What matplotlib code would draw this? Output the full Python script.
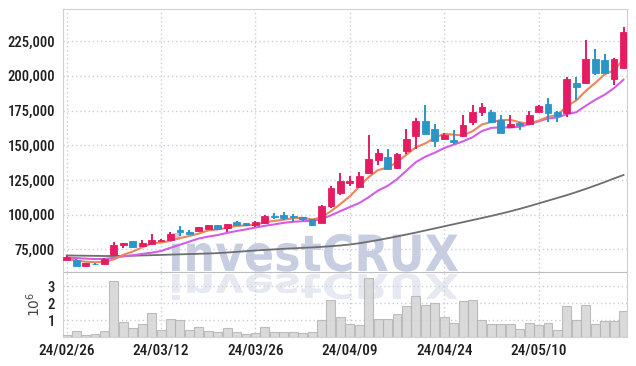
import matplotlib
matplotlib.use("Agg")
import matplotlib.pyplot as plt
import numpy as np
from matplotlib import font_manager
from matplotlib.font_manager import FontProperties
from matplotlib.textpath import TextPath
from matplotlib.patches import PathPatch
from matplotlib.transforms import Affine2D, IdentityTransform


# daily OHLC (won) and volume (millions of shares)
opens = [67200, 67500, 63100, 64500, 64200, 71000, 77900, 80800, 77200, 78400,
         80800, 82000, 88700, 87500, 88000, 89600, 92300, 90400, 94700, 93700,
         92800, 94000, 99300, 99500, 98800, 98300, 96600, 94000, 106000, 115600,
         122800, 120000, 130300, 139200, 141500, 133200, 145900, 156700, 167300, 162000,
         154300, 153400, 156500, 166800, 174000, 173600, 168500, 163200, 166000, 165100,
         174000, 180000, 173600, 173300, 195000, 194600, 212000, 211300, 197400, 206000]
highs = [69800, 67600, 65300, 65300, 68600, 80500, 79800, 80900, 82000, 85800,
         82300, 87500, 91600, 88900, 91200, 92600, 92500, 93500, 95700, 94200,
         95000, 99400, 101200, 101500, 100200, 98500, 96800, 106700, 120400, 129600,
         127600, 130700, 157700, 146900, 147100, 144700, 161500, 169700, 178700, 165600,
         159100, 161300, 172100, 178800, 180500, 175200, 171600, 171600, 166800, 174500,
         179300, 183700, 174700, 199300, 199300, 225700, 219700, 216100, 212800, 235300]
lows = [67000, 62900, 62900, 63300, 64000, 70500, 76200, 76500, 76700, 77700,
        80000, 81500, 84600, 85100, 87800, 89400, 89700, 87500, 92600, 92000,
        91000, 93500, 96800, 96400, 94700, 95400, 91800, 93800, 105000, 113900,
        120400, 119500, 129600, 135600, 132000, 133000, 144000, 147600, 158000, 148800,
        153500, 151200, 156000, 164400, 170900, 166000, 159000, 162800, 160800, 164800,
        173800, 166800, 166800, 170400, 182400, 194000, 200500, 201500, 193500, 204600]
closes = [69400, 63000, 65000, 64000, 68300, 78200, 79500, 76700, 79500, 81500,
          81600, 85800, 87200, 86200, 90900, 92300, 89900, 93000, 92800, 92800,
          94700, 98800, 98000, 97200, 98000, 96600, 92300, 106000, 119200, 124000,
          124000, 127600, 140400, 144400, 132700, 143500, 154800, 167300, 158400, 153100,
          157200, 152200, 164400, 173600, 177200, 166400, 159100, 165100, 164600, 171600,
          178100, 173300, 170800, 197400, 192000, 212000, 202100, 202100, 212500, 231700]
volumes = [0.12, 0.38, 0.12, 0.20, 0.38, 3.30, 0.90, 0.57, 0.80, 1.43,
           0.45, 1.08, 1.02, 0.45, 0.60, 0.40, 0.32, 0.55, 0.30, 0.20,
           0.25, 0.60, 0.33, 0.33, 0.30, 0.25, 0.33, 1.04, 2.20, 1.20,
           0.80, 0.73, 3.48, 1.08, 1.08, 1.37, 1.86, 2.42, 1.92, 2.02,
           1.20, 0.85, 2.11, 2.17, 1.00, 0.80, 0.80, 0.80, 0.50, 0.85,
           0.75, 0.85, 0.42, 1.86, 1.04, 1.92, 0.80, 0.98, 0.98, 1.55]

# moving averages as drawn (thousands of won)
ma5 = [68.0, 66.8, 66.0, 65.6, 65.9, 67.7, 71.0, 73.3, 76.4, 79.1,
       79.8, 81.0, 83.1, 84.5, 86.3, 88.5, 89.3, 90.5, 91.8, 92.2,
       92.6, 94.4, 95.4, 96.3, 97.3, 97.7, 96.4, 98.0, 102.4, 107.6,
       113.1, 120.2, 127.0, 132.1, 133.8, 137.7, 143.2, 148.5, 151.3, 155.4,
       158.2, 157.6, 157.1, 160.1, 164.9, 166.8, 168.1, 168.3, 166.5, 165.4,
       167.7, 170.5, 171.7, 178.2, 182.3, 189.1, 194.9, 201.1, 204.1, 212.1]
ma10 = [69.0, 68.6, 68.2, 67.9, 68.0, 68.8, 69.8, 70.6, 71.6, 72.5,
        73.7, 76.0, 78.2, 80.5, 82.7, 84.1, 85.2, 86.8, 88.1, 89.3,
        90.6, 91.9, 92.9, 94.0, 94.8, 95.2, 95.4, 96.7, 99.4, 102.5,
        105.4, 108.3, 112.5, 117.3, 120.7, 125.4, 131.7, 137.8, 141.7, 144.6,
        147.9, 150.4, 152.8, 155.7, 160.2, 162.5, 162.9, 162.7, 163.3, 165.1,
        167.2, 169.3, 170.0, 172.4, 173.8, 178.4, 182.7, 186.4, 191.2, 197.2]
ma60 = [70.5, 70.4, 70.3, 70.2, 70.1, 70.1, 70.2, 70.3, 70.5, 70.7,
        70.9, 71.1, 71.3, 71.5, 71.7, 71.9, 72.2, 72.6, 73.1, 73.6,
        74.1, 74.5, 74.9, 75.3, 75.6, 76.0, 76.3, 76.7, 77.2, 77.7,
        78.4, 79.3, 80.4, 81.6, 82.9, 84.2, 85.6, 87.0, 88.5, 90.0,
        91.5, 93.0, 94.5, 96.0, 97.5, 99.0, 100.6, 102.3, 104.1, 106.0,
        108.0, 110.0, 112.0, 114.0, 116.2, 118.5, 120.9, 123.4, 126.0, 128.5]

tick_idx = [0, 10, 20, 30, 40, 50]
tick_labels = ["24/02/26", "24/03/12", "24/03/26", "24/04/09", "24/04/24", "24/05/10"]
price_ticks = [75000, 100000, 125000, 150000, 175000, 200000, 225000]

UP = "#e31c64"
DOWN = "#2b95c6"
GRID = "#c9cedd"
SPINE = "#d0d0d0"


def pick_font():
    names = {f.name for f in font_manager.fontManager.ttflist}
    for cand in ["Liberation Sans Narrow", "Roboto Condensed", "Roboto", "DejaVu Sans"]:
        if cand in names:
            return cand
    return "DejaVu Sans"


def main():
    font = pick_font()
    plt.rcParams["font.family"] = [font, "DejaVu Sans"]

    fig = plt.figure(figsize=(6.36, 3.66), dpi=100, facecolor="white")
    ax = fig.add_axes([0.0995, 0.2568, 0.8868, 0.7186], facecolor="none")
    axv = fig.add_axes([0.0995, 0.0779, 0.8868, 0.1790], facecolor="none", sharex=ax)

    x = np.arange(len(closes))
    o = np.array(opens)
    c = np.array(closes)
    up = c >= o
    colors = np.where(up, UP, DOWN)

    # wicks then bodies
    ax.vlines(x, lows, highs, colors=colors, linewidth=1.4, zorder=3)
    body_bottom = np.minimum(o, c)
    body_h = np.maximum(np.abs(c - o), 500)
    ax.bar(x, body_h, bottom=body_bottom, width=0.72, color=colors,
           edgecolor=colors, linewidth=0.6, zorder=4)

    ax.plot(x, np.array(ma60) * 1000, color="#6e6e6e", linewidth=1.3, zorder=2)
    ax.plot(x, np.array(ma10) * 1000, color="#d35ee6", linewidth=1.5, zorder=2)
    ax.plot(x, np.array(ma5) * 1000, color="#ef8458", linewidth=1.5, zorder=2)

    ax.set_xlim(-0.36, 59.4)
    ax.set_ylim(58560, 248200)
    ax.set_yticks(price_ticks)
    ax.set_yticklabels([f"{v:,}" for v in price_ticks])
    ax.set_xticks(tick_idx)
    ax.tick_params(axis="x", labelbottom=False, length=0)
    ax.tick_params(axis="y", length=0, pad=6, labelsize=10.5, labelcolor="#1e1e1e")
    ax.grid(True, color=GRID, linestyle=(0, (1, 2)), linewidth=1.0, zorder=0)
    for s in ax.spines.values():
        s.set_color(SPINE)
    ax.spines["bottom"].set_color("#bdbdbd")
    for lab in ax.get_yticklabels():
        lab.set_fontweight("medium")

    # volume
    axv.bar(x, volumes, width=0.95, color="#d4d4d4", edgecolor="#b4b4b4",
            linewidth=0.8, alpha=0.85, zorder=3)
    axv.set_ylim(0, 3.83)
    axv.set_yticks([1, 2, 3])
    axv.set_xticks(tick_idx)
    axv.set_xticklabels(tick_labels)
    axv.tick_params(axis="both", length=0, labelsize=11, labelcolor="#1e1e1e")
    axv.tick_params(axis="y", pad=6, labelsize=10.5)
    axv.tick_params(axis="x", pad=4)
    for lab in axv.get_xticklabels() + axv.get_yticklabels():
        lab.set_fontweight("medium")
    axv.set_ylabel(r"$10^6$", fontsize=10, color="#444444", labelpad=3)
    axv.grid(True, color=GRID, linestyle=(0, (1, 2)), linewidth=1.0, zorder=0)
    for s in axv.spines.values():
        s.set_color(SPINE)
    axv.spines["top"].set_visible(False)

    # watermark with reflection, in figure pixels
    tp = TextPath((0, 0), "investCRUX", size=50,
                  prop=FontProperties(family="DejaVu Sans", weight="bold"))
    bb = tp.get_extents()
    H = 366
    left, right = 172, 458
    top_px, base_px = 233, 271
    sx = (right - left) / bb.width
    sy = (base_px - top_px) / (bb.y1 - 0)
    main_tr = Affine2D().translate(-bb.x0, 0).scale(sx, sy).translate(left, H - base_px)
    fig.add_artist(PathPatch(tp, transform=main_tr + IdentityTransform(),
                             facecolor="#c8cee1", edgecolor="none", zorder=-1))
    refl_base = 274
    refl_h = 26
    refl_tr = Affine2D().translate(-bb.x0, 0).scale(sx, -refl_h / bb.y1).translate(left, H - refl_base)
    fig.add_artist(PathPatch(tp, transform=refl_tr + IdentityTransform(),
                             facecolor="#e6e9f1", edgecolor="none", zorder=-1))

    fig.savefig("out.png", dpi=100, facecolor="white")


if __name__ == "__main__":
    main()
